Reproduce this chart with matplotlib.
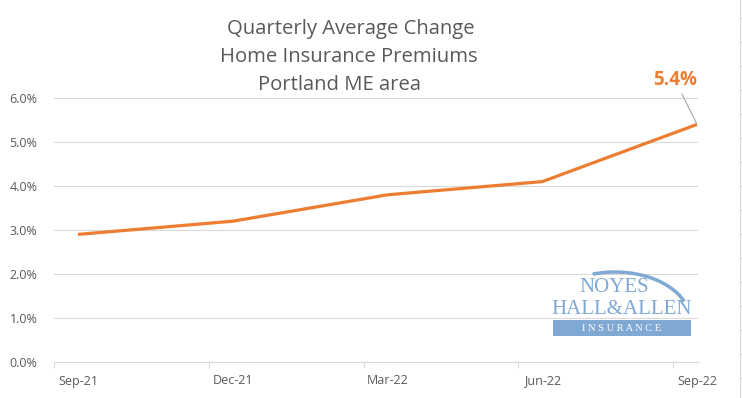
import numpy as np
import matplotlib
matplotlib.use("Agg")
import matplotlib.pyplot as plt
from matplotlib.patches import Rectangle, Arc

# data
quarters = ["Sep-21", "Dec-21", "Mar-22", "Jun-22", "Sep-22"]
avg_change = [0.029, 0.032, 0.038, 0.041, 0.054]
y_ticks = [0.0, 0.01, 0.02, 0.03, 0.04, 0.05, 0.06]
title_lines = ["Quarterly Average Change", "Home Insurance Premiums", "Portland ME area"]

orange = "#ED7D31"
gray_txt = "#595959"
grid_c = "#D9D9D9"
logo_c = "#7FA8D3"

plt.rcParams["font.family"] = ["Open Sans", "DejaVu Sans"]

W, H = 742, 398
fig = plt.figure(figsize=(W / 100, H / 100), dpi=100)
fig.patch.set_facecolor("white")

x = np.arange(len(quarters))
ax = fig.add_axes([54 / W, (H - 362) / H, (698 - 54) / W, (362 - 98) / H])
ax.plot(x, avg_change, color=orange, lw=2.3, solid_capstyle="butt", zorder=3)

ax.set_ylim(0, 0.06)
ax.set_xlim(-0.155, 4.006)
ax.set_yticks(y_ticks)
ax.set_yticklabels(["%.1f%%" % (v * 100) for v in y_ticks])
ax.grid(axis="y", color=grid_c, lw=0.8)
ax.set_axisbelow(True)
for s in ["top", "right", "left"]:
    ax.spines[s].set_visible(False)
ax.spines["bottom"].set_color(grid_c)
ax.spines["bottom"].set_linewidth(0.8)
ax.tick_params(axis="y", length=0, pad=12, labelsize=9, labelcolor=gray_txt)

# tick marks sit a bit left of each point, labels centred on the point
ax.set_xticks(x - 0.155)
ax.set_xticklabels([])
ax.tick_params(axis="x", which="major", length=4, color=grid_c, width=0.8)
ax.set_xticks(x, minor=True)
ax.set_xticklabels(quarters, minor=True)
ax.tick_params(axis="x", which="minor", length=0, pad=9, labelsize=9, labelcolor=gray_txt)

ax.annotate("%.1f%%" % (avg_change[-1] * 100), xy=(x[-1], avg_change[-1]),
            xytext=(-16, 32), textcoords="offset points",
            ha="center", va="center", color=orange, fontsize=13.5, fontweight="bold",
            arrowprops=dict(arrowstyle="-", color="#A6A6A6", lw=0.8, shrinkA=1, shrinkB=1))

title_x = [351, 349, 340]
for i, line in enumerate(title_lines):
    fig.text(title_x[i] / W, 1 - (29 + 28 * i) / H, line, ha="center", va="center",
             fontsize=14.6, color=gray_txt)

# overlay in pixel coords for the logo and the neighbouring edge
ov = fig.add_axes([0, 0, 1, 1], facecolor="none")
ov.set_xlim(0, W)
ov.set_ylim(H, 0)
ov.axis("off")

ov.add_patch(Rectangle((553, 320), 138, 16, color=logo_c, lw=0))
ov.text(622, 328.5, "I N S U R A N C E", ha="center", va="center", color="white",
        fontsize=7.5, family="Liberation Serif")
ov.text(622, 309, "HALL&ALLEN", ha="center", va="center", color=logo_c,
        fontsize=15, family="Liberation Serif")
ov.text(614, 287, "NOYES", ha="center", va="center", color=logo_c,
        fontsize=15, family="Liberation Serif")
# y is flipped here, so angles are mirrored
ov.add_patch(Arc((615, 320), 150, 96, theta1=-116, theta2=-15, color=logo_c, lw=2.5))

ov.plot([740, 740], [0, H], color=grid_c, lw=0.8)
for ty in np.arange(18, H, 24):
    ov.plot([740, 742], [ty, ty], color=grid_c, lw=0.8)

fig.savefig("out.png", dpi=100)
